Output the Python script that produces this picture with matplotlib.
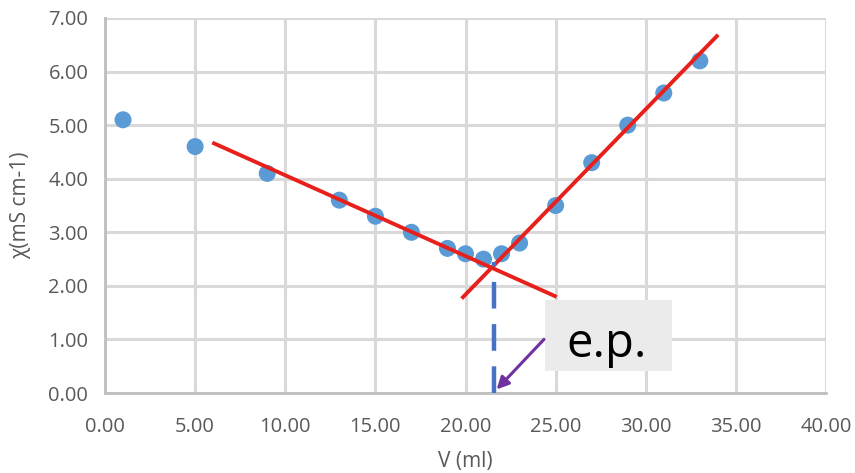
import matplotlib
matplotlib.use("Agg")
import matplotlib.pyplot as plt
from matplotlib.patches import FancyArrowPatch, Rectangle

volume = [1, 5, 9, 13, 15, 17, 19, 20, 21, 22, 23, 25, 27, 29, 31, 33]
conductivity = [5.1, 4.6, 4.1, 3.6, 3.3, 3.0, 2.7, 2.6, 2.5, 2.6, 2.8, 3.5, 4.3, 5.0, 5.6, 6.2]

fit1_x = [6.05, 24.96]
fit1_y = [4.66, 1.81]
fit2_x = [19.86, 33.94]
fit2_y = [1.79, 6.66]

ep_x = [21.6, 21.6]
ep_y = [0.0, 2.44]

x_ticks = [0, 5, 10, 15, 20, 25, 30, 35, 40]
y_ticks = [0, 1, 2, 3, 4, 5, 6, 7]

plt.rcParams['font.family'] = ['Open Sans', 'DejaVu Sans']

fig = plt.figure(figsize=(8.55, 4.73), dpi=100)
ax = fig.add_axes([0.1228, 0.169, 0.8433, 0.793])

ax.set_xlim(0, 40)
ax.set_ylim(0, 7)
ax.set_xticks(x_ticks)
ax.set_yticks(y_ticks)
ax.set_xticklabels([f"{v:.2f}" for v in x_ticks])
ax.set_yticklabels([f"{v:.2f}" for v in y_ticks])
ax.grid(True, color='#D9D9D9', linewidth=2.2, zorder=0)
ax.set_axisbelow(True)
for s in ['top', 'right']:
    ax.spines[s].set_visible(False)
for s in ['left', 'bottom']:
    ax.spines[s].set_color('#BFBFBF')
    ax.spines[s].set_linewidth(2)
ax.tick_params(length=0, labelsize=14.5, labelcolor='#595959')
ax.tick_params(axis='x', pad=17)
ax.tick_params(axis='y', pad=12)

ax.scatter(volume, conductivity, s=150, color='#5B9BD5', zorder=3, edgecolors='none')
ax.plot(fit1_x, fit1_y, color='#E8201C', linewidth=2.8, zorder=4)
ax.plot(fit2_x, fit2_y, color='#E8201C', linewidth=2.8, zorder=4)
ax.plot(ep_x, ep_y, color='#4472C4', linewidth=3.2, dashes=(6, 3.5), zorder=5)

ax.add_patch(Rectangle((24.4, 0.41), 7.05, 1.32, facecolor='#EBEBEB', edgecolor='none', zorder=6))
ax.text(27.84, 0.92, "e.p.", fontsize=34, ha='center', va='center', color='black', zorder=7)
arrow = FancyArrowPatch((24.46, 1.04), (21.62, 0.03), arrowstyle='-|>', mutation_scale=18,
                        color='#7030A0', linewidth=2.2, zorder=8)
ax.add_patch(arrow)

ax.set_xlabel("V (ml)", fontsize=15, color='#595959', labelpad=10)
ax.set_ylabel("χ(mS cm-1)", fontsize=15, color='#595959', labelpad=12)

fig.savefig("out.png", dpi=100)
